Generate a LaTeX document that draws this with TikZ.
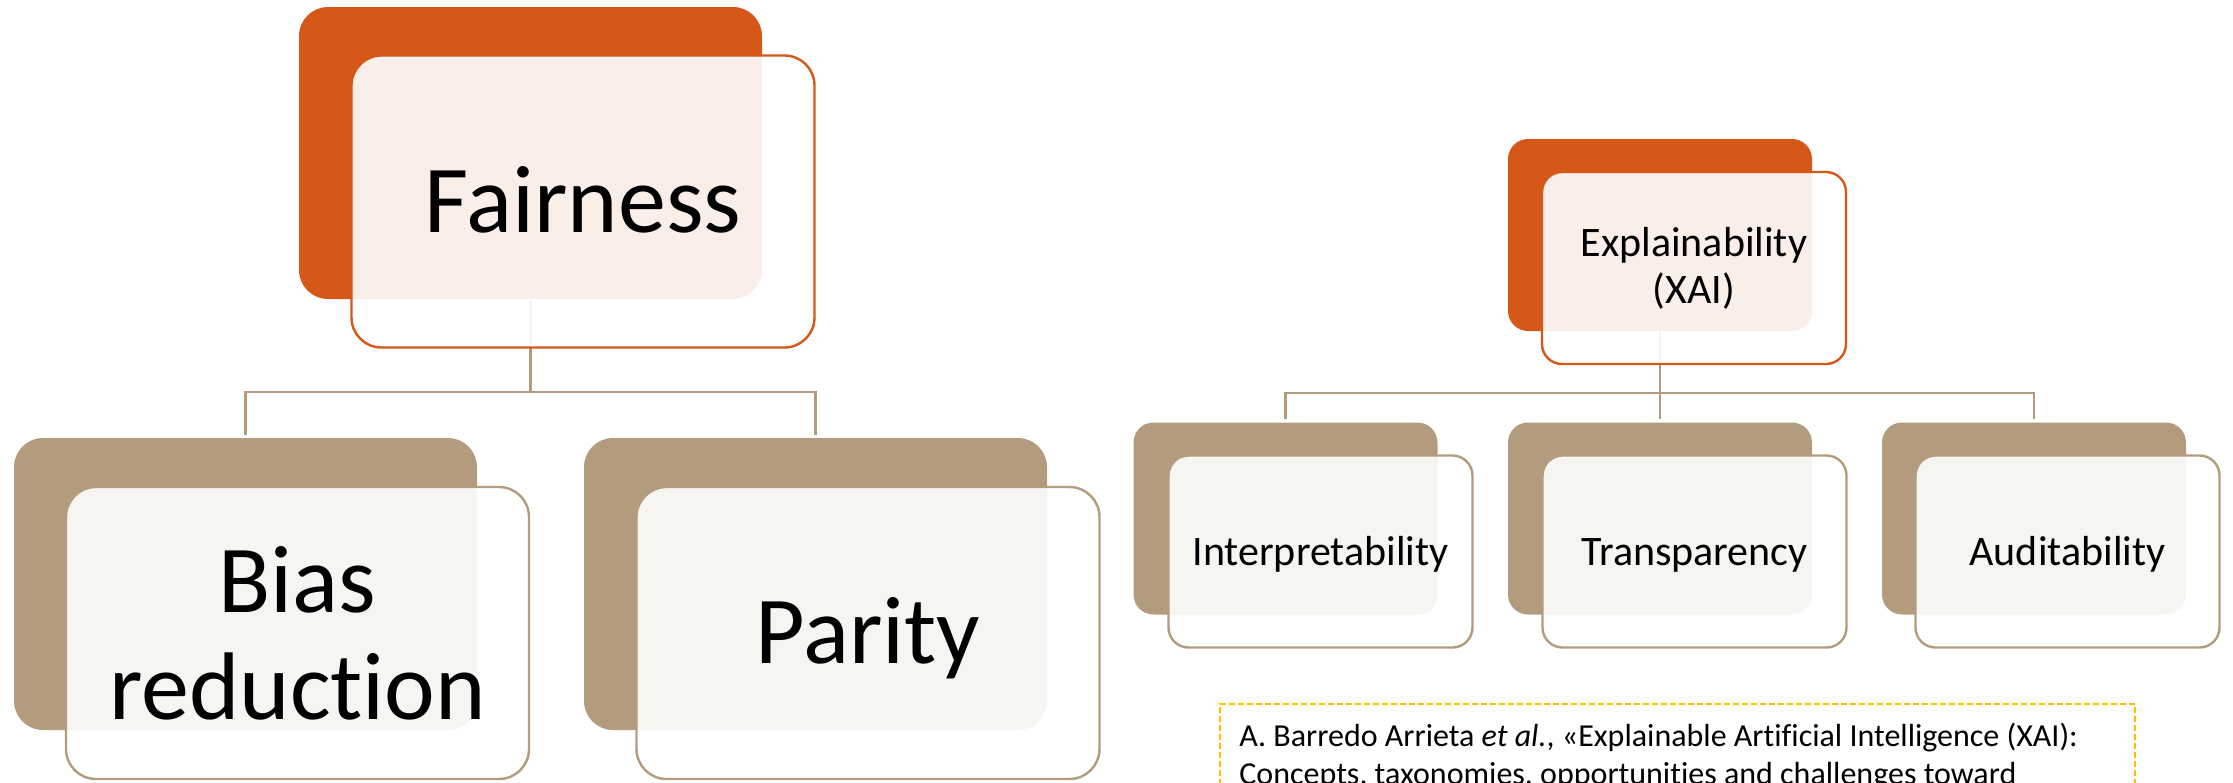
\documentclass[tikz,border=0pt]{standalone}
\usepackage{fontspec}
\setmainfont{Carlito}[Ligatures=CommonOff]
\definecolor{rust}{RGB}{213,88,24}
\definecolor{sand}{RGB}{179,156,125}
\definecolor{gold}{RGB}{255,192,0}

\begin{document}
\begin{tikzpicture}[x=0.5pt,y=-0.5pt,
  bigback/.style={minimum width=231.5pt, minimum height=146pt,
    rounded corners=14.5pt, inner sep=0pt},
  smallback/.style={minimum width=152pt, minimum height=96pt,
    rounded corners=10pt, inner sep=0pt},
  frontbox/.style={fill=white, fill opacity=0.9, text opacity=1,
    line width=1.2pt, inner sep=0pt},
  bigfront/.style={bigback, frontbox, rounded corners=15pt},
  smallfront/.style={smallback, frontbox},
  bigtext/.style={font=\fontsize{48}{53.5}\selectfont},
  smalltext/.style={font=\fontsize{21}{23.5}\selectfont},
  % centre single lines on the middle of the capitals
  bigcap/.style={text height=30.9pt, text depth=0pt},
  smallcap/.style={text height=13.5pt, text depth=0pt},
  conn/.style={draw=sand, line width=1.2pt, shorten >=1.5pt},
  citebox/.style={draw=gold, line width=1pt, dash pattern=on 3pt off 1.5pt,
    inner sep=0pt}
]
\useasboundingbox (0,0) rectangle (2233,782);
\clip (0,0) rectangle (2233,782);

% ---- left tree: Fairness ----
\node[bigback, fill=rust] (fair) at (530.5,153) {};
\node[bigback, fill=sand] (bias) at (245.5,584) {};
\node[bigback, fill=sand] (parity) at (815.5,584) {};

\coordinate (busL) at (530.5,392);
\draw[conn, shorten >=0pt] (fair.south) -- (busL);
\draw[conn] (busL) -| (bias.north);
\draw[conn] (busL) -| (parity.north);

\node[bigfront, draw=rust, bigtext, bigcap] (fairF) at (583,201.5) {Fairness};
\node[bigfront, draw=sand, bigtext, align=center] (biasF) at (297.5,633) {Bias\\reduction};
\node[bigfront, draw=sand, bigtext, bigcap] (parityF) at (868,633) {Parity};

% ---- right tree: Explainability ----
\node[smallback, fill=rust] (xai) at (1660,235) {};
\node[smallback, fill=sand] (interp) at (1285.5,518.5) {};
\node[smallback, fill=sand] (transp) at (1660,518.5) {};
\node[smallback, fill=sand] (audit) at (2034,518.5) {};

\coordinate (busR) at (1660,393);
\draw[conn, shorten >=0pt] (xai.south) -- (busR);
\draw[conn] (busR) -| (interp.north);
\draw[conn] (busR) -- (transp.north);
\draw[conn] (busR) -| (audit.north);

\node[smallfront, draw=rust, smalltext, align=center] (xaiF) at (1694,268) {Explainability\\(XAI)};
\node[smallfront, draw=sand, smalltext, smallcap] (interpF) at (1320.5,551.5) {Interpretability};
\node[smallfront, draw=sand, smalltext, smallcap] (transpF) at (1694.5,551.5) {Transparency};
\node[smallfront, draw=sand, smalltext, smallcap] (auditF) at (2067.5,551.5) {Auditability};

% ---- reference box ----
\node[citebox, anchor=north west, minimum width=457.5pt, minimum height=60pt] (citeframe) at (1219,703) {};
\node[anchor=north west, align=left, inner sep=0pt,
  font=\fontsize{16}{19}\selectfont] (cite) at (1239,723)
  {A. Barredo Arrieta \textit{et al.}, «Explainable Artificial Intelligence (XAI):\\
   Concepts, taxonomies, opportunities and challenges toward};
\end{tikzpicture}
\end{document}
